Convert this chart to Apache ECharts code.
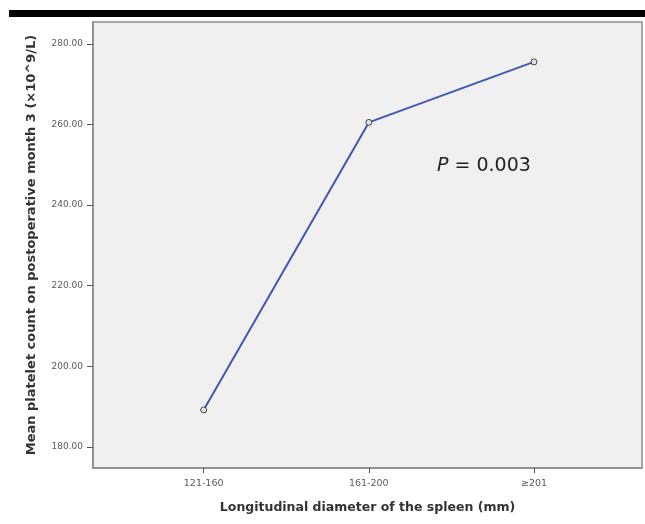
<!DOCTYPE html>
<html>
<head>
<meta charset="utf-8">
<script src="https://cdn.jsdelivr.net/npm/echarts@6/dist/echarts.min.js"></script>
<style>
html,body{margin:0;padding:0;background:#fff;}
#c{width:645px;height:524px;}
</style>
</head>
<body>
<div id="c"></div>
<script>
const categories = ['121-160', '161-200', '≥201'];
const meanPlatelet = [189.2, 260.5, 275.5];
const yTicks = [180, 200, 220, 240, 260, 280];

const chart = echarts.init(document.getElementById('c'));
chart.setOption({
  animation: false,
  backgroundColor: '#ffffff',
  grid: {
    left: 93, right: 3, top: 22, bottom: 56,
    show: true, backgroundColor: '#f0f0f0', borderColor: '#8c8c8c', borderWidth: 1.5
  },
  xAxis: {
    type: 'value',
    min: -0.67, max: 2.654,
    name: 'Longitudinal diameter of the spleen (mm)',
    nameLocation: 'middle', nameGap: 33,
    nameTextStyle: { fontFamily: 'DejaVu Sans', fontWeight: 'bold', fontSize: 12.5, color: '#333' },
    axisLine: { show: true, onZero: false, lineStyle: { color: '#8c8c8c', width: 1.5 } },
    axisTick: { show: true, length: 5, customValues: [0, 1, 2], lineStyle: { color: '#555', width: 1 } },
    axisLabel: {
      customValues: [0, 1, 2], margin: 11,
      formatter: v => categories[Math.round(v)] || '',
      fontFamily: 'DejaVu Sans', fontSize: 9.5, color: '#5a5a5a'
    },
    splitLine: { show: false }
  },
  yAxis: {
    type: 'value',
    min: 174.8, max: 285.4,
    name: 'Mean platelet count on postoperative month 3 (×10^9/L)',
    nameLocation: 'middle', nameGap: 55, nameRotate: 90,
    nameTextStyle: { fontFamily: 'DejaVu Sans', fontWeight: 'bold', fontSize: 13, color: '#333' },
    axisLine: { show: true, onZero: false, lineStyle: { color: '#8c8c8c', width: 1.5 } },
    axisTick: { show: true, length: 6, customValues: yTicks, lineStyle: { color: '#555', width: 1 } },
    axisLabel: {
      customValues: yTicks, margin: 10,
      formatter: v => v.toFixed(2),
      fontFamily: 'DejaVu Sans', fontSize: 9, color: '#5a5a5a'
    },
    splitLine: { show: false }
  },
  series: [{
    type: 'line',
    data: meanPlatelet.map((v, i) => [i, v]),
    lineStyle: { color: '#4356b0', width: 2 },
    symbol: 'circle', symbolSize: 6,
    itemStyle: { color: '#e0e0e0', borderColor: '#444', borderWidth: 1 },
    z: 3
  }],
  graphic: [
    { type: 'rect', left: 9, top: 10, shape: { width: 636, height: 7 }, style: { fill: '#000' } },
    {
      type: 'text', left: 437, top: 157,
      style: {
        text: '{i|P} = 0.003',
        font: '19px "DejaVu Sans"',
        fill: '#222',
        rich: { i: { fontStyle: 'italic', fontSize: 19, fontFamily: 'DejaVu Sans', fill: '#222' } }
      }
    }
  ]
});
</script>
</body>
</html>
